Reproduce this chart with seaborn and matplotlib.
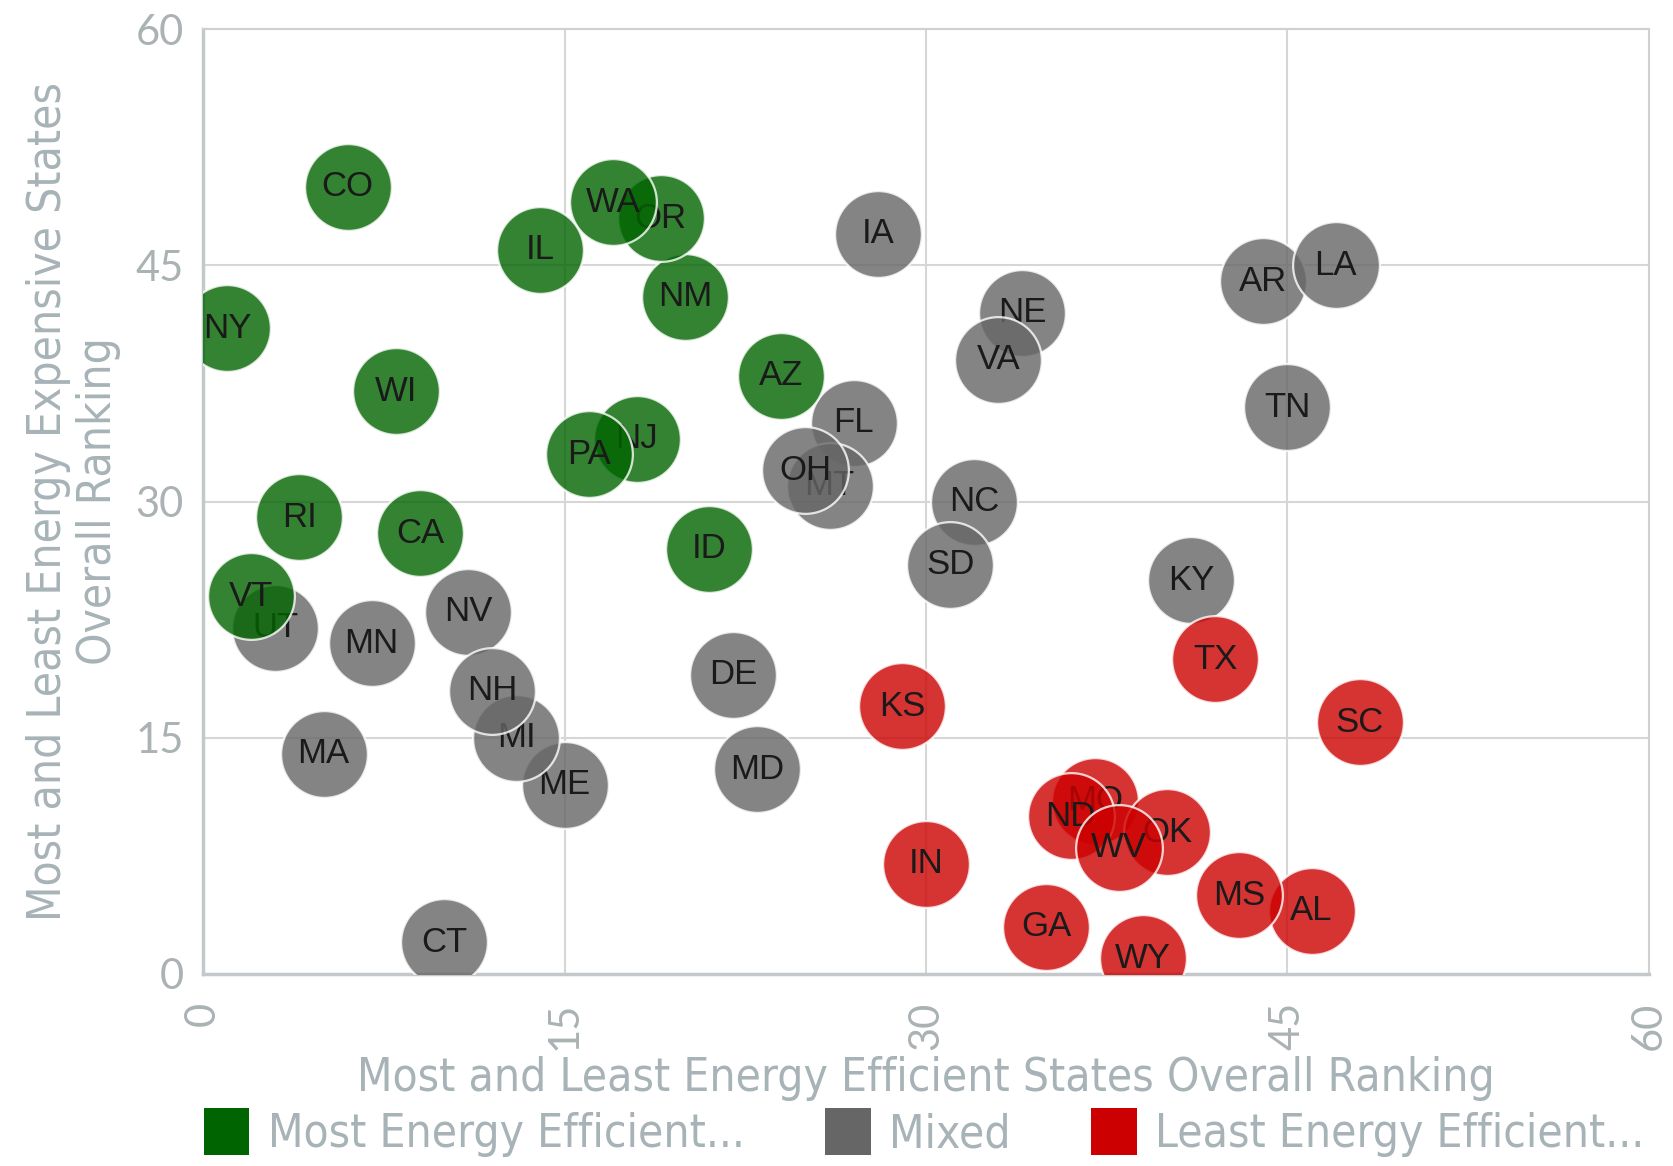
import matplotlib
matplotlib.use("Agg")
import matplotlib.pyplot as plt
from matplotlib.patches import Patch
import seaborn as sns
import pandas as pd

# State abbreviations with their two rankings; listed in drawing order
states = [
    # Mixed
    "IA", "AR", "LA", "NE", "VA", "TN", "FL", "MT", "OH", "NC", "SD", "KY",
    "NV", "UT", "MN", "DE", "ME", "MI", "NH", "MA", "MD", "CT",
    # Most energy efficient
    "NY", "CO", "NM", "OR", "WA", "IL", "WI", "AZ", "NJ", "PA", "RI", "CA",
    "ID", "VT",
    # Least energy efficient
    "KS", "TX", "SC", "MO", "ND", "OK", "WV", "IN", "AL", "MS", "GA", "WY",
]
efficiency_rank = [
    28, 44, 47, 34, 33, 45, 27, 26, 25, 32, 31, 41,
    11, 3, 7, 22, 15, 13, 12, 5, 23, 10,
    1, 6, 20, 19, 17, 14, 8, 24, 18, 16, 4, 9,
    21, 2,
    29, 42, 48, 37, 36, 40, 38, 30, 46, 43, 35, 39,
]
cost_rank = [
    47, 44, 45, 42, 39, 36, 35, 31, 32, 30, 26, 25,
    23, 22, 21, 19, 12, 15, 18, 14, 13, 2,
    41, 50, 43, 48, 49, 46, 37, 38, 34, 33, 29, 28,
    27, 24,
    17, 20, 16, 11, 10, 9, 8, 7, 4, 5, 3, 1,
]
group = ["Mixed"] * 22 + ["Most Energy Efficient..."] * 14 + ["Least Energy Efficient..."] * 12

group_order = ["Most Energy Efficient...", "Mixed", "Least Energy Efficient..."]
group_colors = ["#006400", "#666666", "#cc0000"]

df = pd.DataFrame({"state": states, "eff": efficiency_rank,
                   "cost": cost_rank, "group": group})

sns.set_theme(style="white")
plt.rcParams["font.family"] = ["Liberation Sans", "DejaVu Sans"]

label_grey = "#a7b3b7"
tick_grey = "#aab2b4"
title_font = {"family": ["DejaVu Sans"], "stretch": "condensed"}

fig = plt.figure(figsize=(16.74, 11.66), dpi=100)
ax = fig.add_axes([0.1213, 0.1647, 0.8637, 0.8103])

palette = dict(zip(group_order, group_colors))
for i, row in df.iterrows():
    sns.scatterplot(data=df.iloc[[i]], x="eff", y="cost", hue="group",
                    palette=palette, hue_order=group_order, s=3900,
                    alpha=0.8, edgecolor="white", linewidth=1.6,
                    legend=False, ax=ax, zorder=3 + 2 * i)
    ax.text(row["eff"], row["cost"], row["state"], ha="center", va="center",
            fontsize=25, color="#1a1a1a", zorder=4 + 2 * i, clip_on=True)

ax.set_xlim(0, 60)
ax.set_ylim(0, 60)
ticks = [0, 15, 30, 45, 60]
ax.set_xticks(ticks)
ax.set_yticks(ticks)
ax.set_xticklabels([str(t) for t in ticks], rotation=90, fontsize=30,
                   color=tick_grey, family=["Lato", "DejaVu Sans"])
ax.set_yticklabels([str(t) for t in ticks], fontsize=30,
                   color=tick_grey, family=["Lato", "DejaVu Sans"])
ax.tick_params(axis="x", length=0, pad=20)
ax.tick_params(axis="y", length=0, pad=14)
ax.grid(True, color="#d6d6d6", linewidth=1.5, zorder=0)
ax.set_axisbelow(True)
for side, sp in ax.spines.items():
    sp.set_color("#d0d0d0")
    sp.set_linewidth(1.5)
ax.spines["left"].set_color("#c4c8ca")
ax.spines["bottom"].set_color("#c4c8ca")
ax.spines["left"].set_linewidth(2.5)
ax.spines["bottom"].set_linewidth(2.5)

ax.set_xlabel("Most and Least Energy Efficient States Overall Ranking",
              fontsize=33, color=label_grey, labelpad=4, **title_font)
ax.set_ylabel("Most and Least Energy Expensive States\nOverall Ranking",
              fontsize=33, color=label_grey, labelpad=10, linespacing=1.15,
              **title_font)

handles = [Patch(facecolor=c, edgecolor="none") for c in group_colors]
fig.legend(handles, group_order, loc="lower left", bbox_to_anchor=(0.097, -0.028),
           ncol=3, frameon=False, handlelength=1.0, handleheight=1.2,
           handletextpad=0.4, columnspacing=1.75,
           prop={"family": ["DejaVu Sans"], "stretch": "condensed", "size": 33},
           labelcolor=label_grey)

fig.savefig("out.png", dpi=100)
